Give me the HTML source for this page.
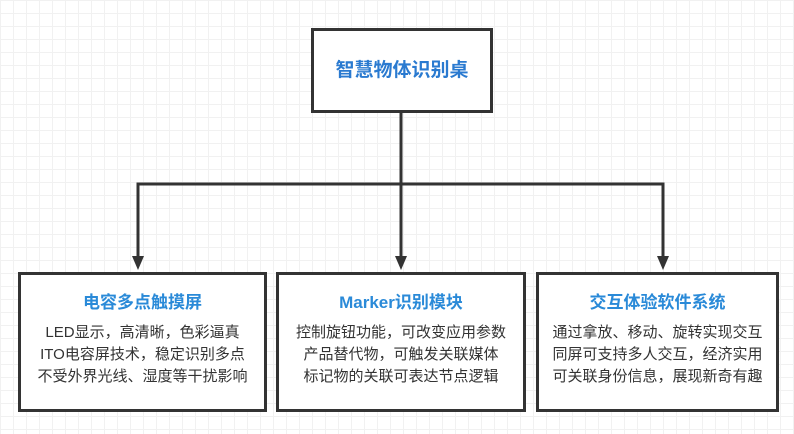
<!DOCTYPE html>
<html><head><meta charset="utf-8"><style>
body{margin:0;width:794px;height:434px;overflow:hidden;background:#fff;
background-image:linear-gradient(#f1f1f1 1px,transparent 1px),linear-gradient(90deg,#f1f1f1 1px,transparent 1px);background-size:13px 13px;
font-family:"Liberation Sans","Noto Sans CJK SC",sans-serif;position:relative}
.b{position:absolute;border:3px solid #333;background:#fff;box-sizing:border-box;text-align:center}
.t{color:#2a8ad8;font-weight:bold;font-size:17px;margin-top:13px;margin-bottom:9px}
.p{color:#333;font-size:15px;line-height:22px;white-space:nowrap}
svg{position:absolute;left:0;top:0}
</style></head><body>
<svg width="794" height="434">
<g stroke="#333" stroke-width="3" fill="none">
<line x1="401" y1="110" x2="401" y2="258"/>
<polyline points="138,258 138,184 663,184 663,258"/>
</g>
<g fill="#333">
<polygon points="132,256 144,256 138,270"/>
<polygon points="395,256 407,256 401,270"/>
<polygon points="657,256 669,256 663,270"/>
</g>
</svg>
<div class="b" style="left:311px;top:28px;width:182px;height:85px;line-height:79px;color:#2a7ad0;font-weight:bold;font-size:19px">智慧物体识别桌</div>
<div class="b" style="left:18px;top:272px;width:249px;height:140px"><div class="t">电容多点触摸屏</div><div class="p">LED显示，高清晰，色彩逼真<br>ITO电容屏技术，稳定识别多点<br>不受外界光线、湿度等干扰影响</div></div>
<div class="b" style="left:276px;top:272px;width:250px;height:140px"><div class="t">Marker识别模块</div><div class="p">控制旋钮功能，可改变应用参数<br>产品替代物，可触发关联媒体<br>标记物的关联可表达节点逻辑</div></div>
<div class="b" style="left:536px;top:272px;width:243px;height:140px"><div class="t">交互体验软件系统</div><div class="p">通过拿放、移动、旋转实现交互<br>同屏可支持多人交互，经济实用<br>可关联身份信息，展现新奇有趣</div></div>
</body></html>
